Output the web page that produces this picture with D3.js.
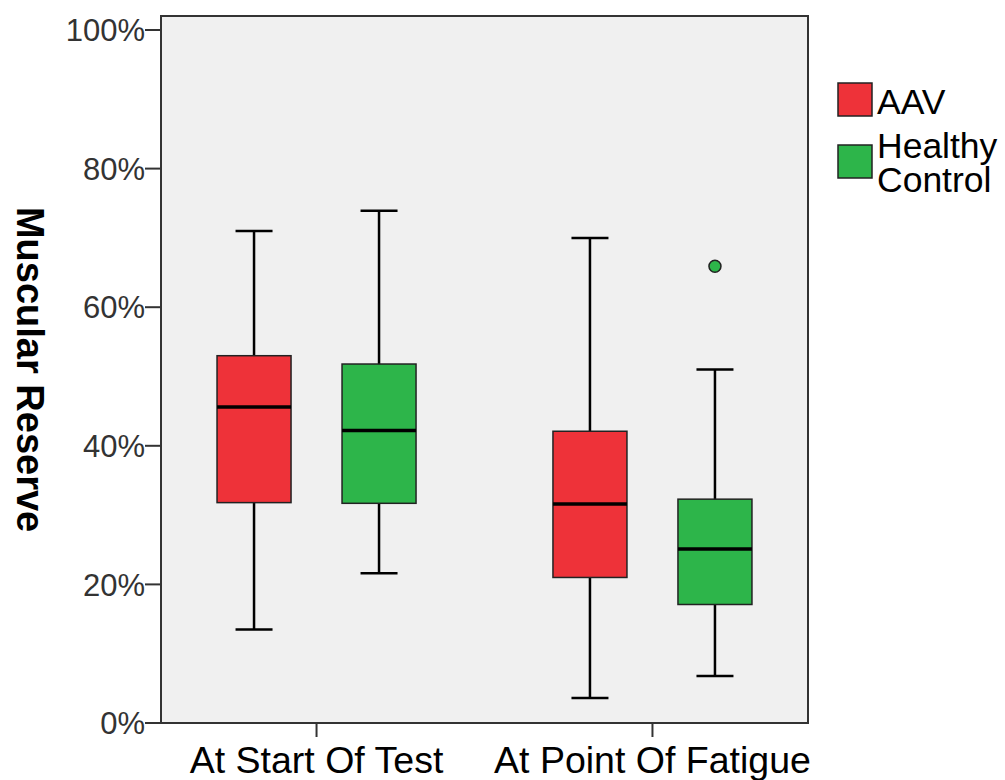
<!DOCTYPE html>
<html lang="en">
<head>
    <meta charset="UTF-8">
    <title>Muscular Reserve</title>
    <style>
        body { margin: 0; background: #fff; }
        svg { font-family: Arial, "Liberation Sans", sans-serif; }
        .tick-label { font-size: 31px; fill: #333; }
        .cat-label { font-size: 37.5px; fill: #000; }
        .legend-label { font-size: 35.5px; fill: #000; }
    </style>
</head>
<body>
    <script src="https://d3js.org/d3.v7.min.js"></script>
    <script>
        const categories = ["At Start Of Test", "At Point Of Fatigue"];
        const groups = ["AAV", "Healthy Control"];
        const colors = ["#ee3239", "#2db54a"];
        const yTicks = [0, 20, 40, 60, 80, 100];

        // [low whisker, Q1, median, Q3, high whisker] per category, per group
        const aavStats = [
            [13.5, 31.8, 45.6, 53.0, 71.0],
            [3.6, 21.0, 31.6, 42.1, 70.0]
        ];
        const controlStats = [
            [21.6, 31.7, 42.2, 51.8, 73.9],
            [6.8, 17.1, 25.1, 32.3, 51.0]
        ];
        const controlOutliers = [[], [65.9]];

        const width = 1005;
        const height = 780;
        const plotLeft = 161, plotRight = 808, plotTop = 16, plotBottom = 723;

        const svg = d3.select("body").append("svg")
            .attr("width", width)
            .attr("height", height);

        const y = d3.scaleLinear().domain([0, 100]).range([plotBottom, 30]);
        const x = d3.scalePoint().domain(categories).range([plotLeft, plotRight]).padding(0.463);
        const offset = d3.scalePoint().domain(groups).range([-62.5, 62.5]);
        const boxW = 74;

        // plot background
        svg.append("rect")
            .attr("x", plotLeft).attr("y", plotTop)
            .attr("width", plotRight - plotLeft).attr("height", plotBottom - plotTop)
            .attr("fill", "#f0f0f0")
            .attr("stroke", "#333")
            .attr("stroke-width", 2);

        // y axis ticks
        const yAxis = svg.append("g");
        yTicks.forEach(t => {
            yAxis.append("line")
                .attr("x1", plotLeft - 16).attr("x2", plotLeft)
                .attr("y1", y(t)).attr("y2", y(t))
                .attr("stroke", "#333").attr("stroke-width", 2);
            yAxis.append("text")
                .attr("class", "tick-label")
                .attr("x", plotLeft - 16).attr("y", y(t))
                .attr("dy", "0.36em")
                .attr("text-anchor", "end")
                .text(t + "%");
        });

        // x axis ticks
        categories.forEach(c => {
            svg.append("line")
                .attr("x1", x(c)).attr("x2", x(c))
                .attr("y1", plotBottom).attr("y2", plotBottom + 14)
                .attr("stroke", "#333").attr("stroke-width", 2);
            svg.append("text")
                .attr("class", "cat-label")
                .attr("x", x(c)).attr("y", 773)
                .attr("text-anchor", "middle")
                .text(c);
        });

        // y axis title
        svg.append("text")
            .attr("transform", `translate(17, ${y(51)}) rotate(90)`)
            .attr("text-anchor", "middle")
            .attr("font-size", 38)
            .attr("font-weight", "bold")
            .text("Muscular Reserve");

        function drawBox(cat, group, s, color) {
            const cx = x(cat) + offset(group);
            const g = svg.append("g");
            g.append("line")
                .attr("x1", cx).attr("x2", cx)
                .attr("y1", y(s[0])).attr("y2", y(s[4]))
                .attr("stroke", "#000").attr("stroke-width", 2.5);
            [s[0], s[4]].forEach(v => {
                g.append("line")
                    .attr("x1", cx - boxW / 4).attr("x2", cx + boxW / 4)
                    .attr("y1", y(v)).attr("y2", y(v))
                    .attr("stroke", "#000").attr("stroke-width", 2.5);
            });
            g.append("rect")
                .attr("x", cx - boxW / 2).attr("y", y(s[3]))
                .attr("width", boxW).attr("height", y(s[1]) - y(s[3]))
                .attr("fill", color)
                .attr("stroke", "#222").attr("stroke-width", 1.5);
            g.append("line")
                .attr("x1", cx - boxW / 2).attr("x2", cx + boxW / 2)
                .attr("y1", y(s[2])).attr("y2", y(s[2]))
                .attr("stroke", "#000").attr("stroke-width", 3.5);
        }

        categories.forEach((c, i) => {
            drawBox(c, groups[0], aavStats[i], colors[0]);
            drawBox(c, groups[1], controlStats[i], colors[1]);
            controlOutliers[i].forEach(v => {
                svg.append("circle")
                    .attr("cx", x(c) + offset(groups[1]))
                    .attr("cy", y(v))
                    .attr("r", 6)
                    .attr("fill", colors[1])
                    .attr("stroke", "#222").attr("stroke-width", 1.5);
            });
        });

        // legend
        const legend = svg.append("g");
        const legendRows = [
            { y: 83, lines: ["AAV"] },
            { y: 145, lines: ["Healthy", "Control"] }
        ];
        legendRows.forEach((r, i) => {
            legend.append("rect")
                .attr("x", 838).attr("y", r.y)
                .attr("width", 34).attr("height", 33)
                .attr("fill", colors[i])
                .attr("stroke", "#222").attr("stroke-width", 1.5);
        });
        legend.append("text").attr("class", "legend-label")
            .attr("x", 877).attr("y", 114).text("AAV");
        legend.append("text").attr("class", "legend-label")
            .attr("x", 877).attr("y", 158).text("Healthy");
        legend.append("text").attr("class", "legend-label")
            .attr("x", 877).attr("y", 192).text("Control");
    </script>
</body>
</html>
